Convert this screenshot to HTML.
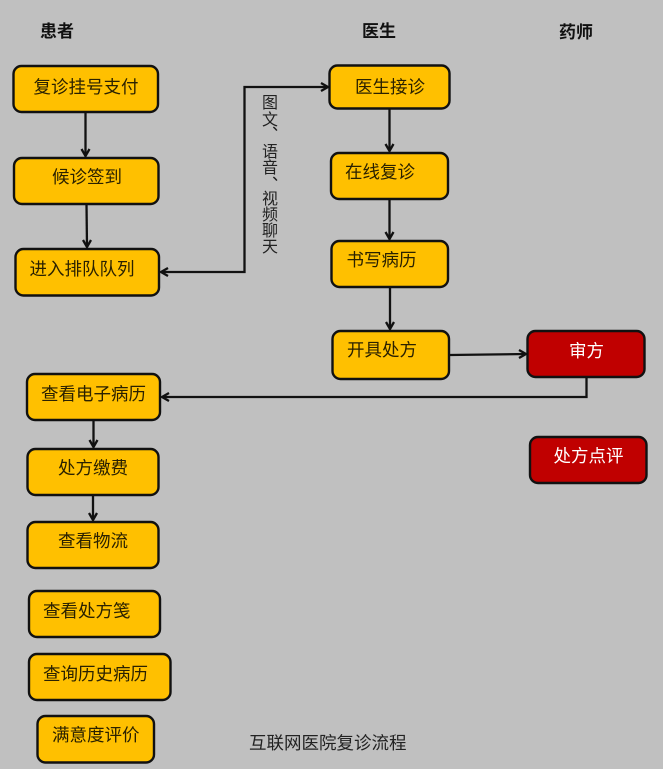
<!DOCTYPE html>
<html><head><meta charset="utf-8"><style>
html,body{margin:0;padding:0;background:#c0c0c0}
svg{display:block}
text{font-family:"Liberation Sans","Noto Sans CJK SC",sans-serif}
.b{stroke:#111;stroke-width:2.4}
.y{fill:#ffc000}.r{fill:#c00000}
.t{font-size:17.5px;fill:#2a2100}
.w{font-size:17.5px;fill:#fff}
.h{font-size:17px;font-weight:bold;fill:#111}
.v{font-size:16px;fill:#222;text-anchor:middle}
.l{stroke:#111;stroke-width:2.3;fill:none}
.a{stroke:#111;stroke-width:2.3;fill:none}
</style></head><body>
<svg width="663" height="769" viewBox="0 0 663 769" xmlns="http://www.w3.org/2000/svg">
<rect width="663" height="769" fill="#c0c0c0"/>
<text class="h" x="40" y="37">患者</text>
<text class="h" x="362" y="37">医生</text>
<text class="h" x="559" y="38">药师</text>

<g class="b">
<rect class="y" x="13.500" y="66" width="144.500" height="46" rx="8"/>
<rect class="y" x="14" y="158" width="144.500" height="46" rx="8"/>
<rect class="y" x="15.500" y="249" width="143.500" height="46.500" rx="8"/>
<rect class="y" x="329.500" y="65.500" width="120" height="43" rx="8"/>
<rect class="y" x="331" y="153" width="117" height="46" rx="8"/>
<rect class="y" x="331.500" y="241" width="116.500" height="46" rx="8"/>
<rect class="y" x="332.500" y="331" width="116.500" height="48" rx="8"/>
<rect class="r" x="527.500" y="331" width="117" height="46" rx="8"/>
<rect class="r" x="530" y="437" width="116.500" height="46" rx="8"/>
<rect class="y" x="27" y="374" width="133" height="46" rx="8"/>
<rect class="y" x="27.500" y="449" width="131" height="46" rx="8"/>
<rect class="y" x="27.500" y="522" width="131" height="46" rx="8"/>
<rect class="y" x="29" y="591" width="131" height="46" rx="8"/>
<rect class="y" x="29" y="654" width="141.500" height="46" rx="8"/>
<rect class="y" x="37.500" y="716" width="116.500" height="46.500" rx="8"/>
</g>

<text class="t" x="33.500" y="93">复诊挂号支付</text>
<text class="t" x="52" y="183">候诊签到</text>
<text class="t" x="29.500" y="275">进入排队队列</text>
<text class="t" x="355" y="93">医生接诊</text>
<text class="t" x="345" y="178">在线复诊</text>
<text class="t" x="346.500" y="266">书写病历</text>
<text class="t" x="347" y="356">开具处方</text>
<text class="w" x="569" y="357">审方</text>
<text class="w" x="553.500" y="462">处方点评</text>
<text class="t" x="41" y="400">查看电子病历</text>
<text class="t" x="58" y="474">处方缴费</text>
<text class="t" x="58" y="547">查看物流</text>
<text class="t" x="43" y="617">查看处方笺</text>
<text class="t" x="43" y="680">查询历史病历</text>
<text class="t" x="52" y="741">满意度评价</text>
<text x="249" y="749" style="font-size:17.500px;fill:#222">互联网医院复诊流程</text>

<text class="v" x="270" y="108">图</text>
<text class="v" x="270" y="125">文</text>
<text class="v" x="280" y="130">、</text>
<text class="v" x="270" y="157">语</text>
<text class="v" x="270" y="173">音</text>
<text class="v" x="280" y="180">、</text>
<text class="v" x="270" y="204">视</text>
<text class="v" x="270" y="220">频</text>
<text class="v" x="270" y="236">聊</text>
<text class="v" x="270" y="252">天</text>

<path class="l" d="M85.500 112V156"/><path class="a" d="M81.500 149l4 7 4-7"/>
<path class="l" d="M86.500 204L87 247"/><path class="a" d="M83 240l4 7 4-7"/>
<path class="l" d="M161 272H244.500V87H328"/>
<path class="a" d="M168 268l-7 4 7 4M321 83l7 4-7 4"/>
<path class="l" d="M389.500 109V151"/><path class="a" d="M385.500 144l4 7 4-7"/>
<path class="l" d="M389.500 199V239"/><path class="a" d="M385.500 232l4 7 4-7"/>
<path class="l" d="M390 287V329"/><path class="a" d="M386 322l4 7 4-7"/>
<path class="l" d="M450 355L526 354"/><path class="a" d="M519 350l7 4-7 4"/>
<path class="l" d="M586.500 377V397H162"/><path class="a" d="M169 393l-7 4 7 4"/>
<path class="l" d="M93.500 420V447"/><path class="a" d="M89.500 440l4 7 4-7"/>
<path class="l" d="M93 495V520"/><path class="a" d="M89 513l4 7 4-7"/>
</svg>
</body></html>
